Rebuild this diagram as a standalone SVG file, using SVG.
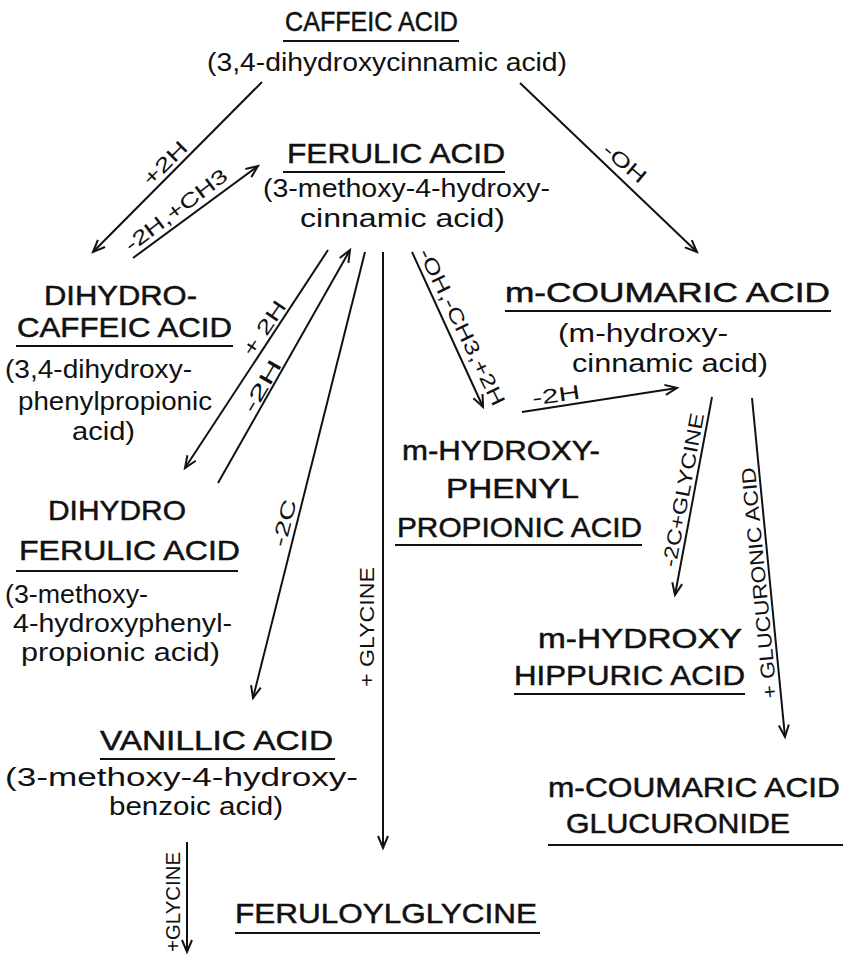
<svg xmlns="http://www.w3.org/2000/svg" width="845" height="959" viewBox="0 0 845 959">
<style>
  .t { font-family: "Liberation Sans", Arial, sans-serif; font-size: 28px; fill: #111; stroke: #111; stroke-width: 0.5; }
  .s { font-family: "Liberation Sans", Arial, sans-serif; font-size: 25px; fill: #111; }
  .l { font-family: "Liberation Sans", Arial, sans-serif; font-size: 20px; fill: #111; text-anchor: middle; dominant-baseline: central; }
  .u { stroke: #111; stroke-width: 2; }
  .c { stroke: #111; stroke-width: 2; fill: none; marker-end: url(#ah); }
</style>
<defs>
  <marker id="ah" markerUnits="userSpaceOnUse" markerWidth="16" markerHeight="14" refX="13" refY="6" orient="auto">
    <path d="M1,1 L13,6 L1,11" fill="none" stroke="#111" stroke-width="2"/>
  </marker>
</defs>
<rect width="845" height="959" fill="#fff"/>

<g id="caffeic">
  <text class="t" x="285" y="31" textLength="173" lengthAdjust="spacingAndGlyphs">CAFFEIC ACID</text>
  <line class="u" x1="283" y1="41" x2="459" y2="41"/>
  <text class="s" x="207" y="71" textLength="360" lengthAdjust="spacingAndGlyphs">(3,4-dihydroxycinnamic acid)</text>
</g>

<g id="ferulic">
  <text class="t" x="287" y="163" textLength="218" lengthAdjust="spacingAndGlyphs">FERULIC ACID</text>
  <line class="u" x1="283" y1="172" x2="505" y2="172"/>
  <text class="s" x="263" y="197" textLength="287" lengthAdjust="spacingAndGlyphs">(3-methoxy-4-hydroxy-</text>
  <text class="s" x="300" y="227" textLength="205" lengthAdjust="spacingAndGlyphs">cinnamic acid)</text>
</g>

<g id="dihydrocaffeic">
  <text class="t" x="44" y="305" textLength="153" lengthAdjust="spacingAndGlyphs">DIHYDRO-</text>
  <text class="t" x="17" y="337" textLength="215" lengthAdjust="spacingAndGlyphs">CAFFEIC ACID</text>
  <line class="u" x1="16" y1="346" x2="233" y2="346"/>
  <text class="s" x="5" y="378" textLength="187" lengthAdjust="spacingAndGlyphs">(3,4-dihydroxy-</text>
  <text class="s" x="18" y="410" textLength="194" lengthAdjust="spacingAndGlyphs">phenylpropionic</text>
  <text class="s" x="72" y="440" textLength="63" lengthAdjust="spacingAndGlyphs">acid)</text>
</g>

<g id="dihydroferulic">
  <text class="t" x="48" y="520" textLength="138" lengthAdjust="spacingAndGlyphs">DIHYDRO</text>
  <text class="t" x="19" y="560" textLength="221" lengthAdjust="spacingAndGlyphs">FERULIC ACID</text>
  <line class="u" x1="16" y1="571" x2="238" y2="571"/>
  <text class="s" x="5" y="603" textLength="143" lengthAdjust="spacingAndGlyphs">(3-methoxy-</text>
  <text class="s" x="13" y="632" textLength="219" lengthAdjust="spacingAndGlyphs">4-hydroxyphenyl-</text>
  <text class="s" x="21" y="661" textLength="199" lengthAdjust="spacingAndGlyphs">propionic acid)</text>
</g>

<g id="vanillic">
  <text class="t" x="100" y="750" textLength="233" lengthAdjust="spacingAndGlyphs">VANILLIC ACID</text>
  <line class="u" x1="100" y1="759" x2="335" y2="759"/>
  <text class="s" x="5" y="786" textLength="353" lengthAdjust="spacingAndGlyphs">(3-methoxy-4-hydroxy-</text>
  <text class="s" x="109" y="815" textLength="174" lengthAdjust="spacingAndGlyphs">benzoic acid)</text>
</g>

<g id="feruloylglycine">
  <text class="t" x="235" y="923" textLength="302" lengthAdjust="spacingAndGlyphs">FERULOYLGLYCINE</text>
  <line class="u" x1="235" y1="933" x2="540" y2="933"/>
</g>

<g id="mcoumaric">
  <text class="t" x="505" y="302" textLength="325" lengthAdjust="spacingAndGlyphs">m-COUMARIC ACID</text>
  <line class="u" x1="505" y1="311" x2="831" y2="311"/>
  <text class="s" x="558" y="342" textLength="170" lengthAdjust="spacingAndGlyphs">(m-hydroxy-</text>
  <text class="s" x="572" y="372" textLength="196" lengthAdjust="spacingAndGlyphs">cinnamic acid)</text>
</g>

<g id="mhydroxyphenylpropionic">
  <text class="t" x="402" y="460" textLength="198" lengthAdjust="spacingAndGlyphs">m-HYDROXY-</text>
  <text class="t" x="446" y="498" textLength="133" lengthAdjust="spacingAndGlyphs">PHENYL</text>
  <text class="t" x="397" y="537" textLength="245" lengthAdjust="spacingAndGlyphs">PROPIONIC ACID</text>
  <line class="u" x1="395" y1="545" x2="642" y2="545"/>
</g>

<g id="mhydroxyhippuric">
  <text class="t" x="538" y="648" textLength="204" lengthAdjust="spacingAndGlyphs">m-HYDROXY</text>
  <text class="t" x="514" y="685" textLength="231" lengthAdjust="spacingAndGlyphs">HIPPURIC ACID</text>
  <line class="u" x1="514" y1="694" x2="745" y2="694"/>
</g>

<g id="glucuronide">
  <text class="t" x="548" y="797" textLength="292" lengthAdjust="spacingAndGlyphs">m-COUMARIC ACID</text>
  <text class="t" x="566" y="833" textLength="224" lengthAdjust="spacingAndGlyphs">GLUCURONIDE</text>
  <line class="u" x1="548" y1="845" x2="843" y2="845"/>
</g>

<g id="connectors">
  <line class="c" x1="262" y1="82" x2="93" y2="252"/>
  <line class="c" x1="133" y1="258" x2="258" y2="166"/>
  <line class="c" x1="520" y1="83" x2="697" y2="252"/>
  <line class="c" x1="328" y1="250" x2="185" y2="468"/>
  <line class="c" x1="218" y1="483" x2="350" y2="250"/>
  <line class="c" x1="365" y1="252" x2="253" y2="698"/>
  <line class="c" x1="383" y1="252" x2="383" y2="848"/>
  <line class="c" x1="412" y1="252" x2="483" y2="407"/>
  <line class="c" x1="522" y1="412" x2="677" y2="388"/>
  <line class="c" x1="712" y1="397" x2="675" y2="595"/>
  <line class="c" x1="752" y1="398" x2="785" y2="737"/>
  <line class="c" x1="187" y1="842" x2="187" y2="952"/>

  <text class="l" transform="translate(165,163) rotate(-45)" textLength="54" lengthAdjust="spacingAndGlyphs">+2H</text>
  <text class="l" transform="translate(176,210) rotate(-37)" textLength="123" lengthAdjust="spacingAndGlyphs">-2H,+CH3</text>
  <text class="l" transform="translate(625,163) rotate(40)" textLength="50" lengthAdjust="spacingAndGlyphs">-OH</text>
  <text class="l" transform="translate(264,328) rotate(-56)" textLength="62" lengthAdjust="spacingAndGlyphs">+ 2H</text>
  <text class="l" transform="translate(262,386) rotate(-60)" textLength="58" lengthAdjust="spacingAndGlyphs">-2H</text>
  <text class="l" transform="translate(284,523) rotate(-76)" textLength="48" lengthAdjust="spacingAndGlyphs">-2C</text>
  <text class="l" transform="translate(367,627) rotate(-90)" textLength="120" lengthAdjust="spacingAndGlyphs">+ GLYCINE</text>
  <text class="l" transform="translate(462,327) rotate(64)" textLength="172" lengthAdjust="spacingAndGlyphs">-OH,-CH3,+2H</text>
  <text class="l" transform="translate(556,395) rotate(-8)" textLength="48" lengthAdjust="spacingAndGlyphs">-2H</text>
  <text class="l" transform="translate(683,490) rotate(-79.5)" textLength="156" lengthAdjust="spacingAndGlyphs">-2C+GLYCINE</text>
  <text class="l" transform="translate(759,583) rotate(-95.5)" textLength="232" lengthAdjust="spacingAndGlyphs">+ GLUCURONIC  ACID</text>
  <text class="l" transform="translate(173,902) rotate(-90)" textLength="100" lengthAdjust="spacingAndGlyphs">+GLYCINE</text>
</g>
</svg>
